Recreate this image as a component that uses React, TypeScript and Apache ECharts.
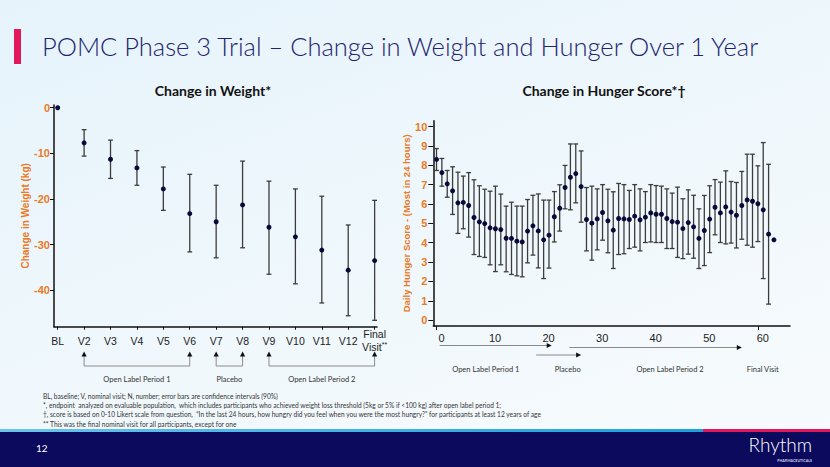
import React, { useEffect, useRef } from "react";
import * as echarts from "echarts";

// ---------- data ----------
const weightVisits = ["BL", "V2", "V3", "V4", "V5", "V6", "V7", "V8", "V9", "V10", "V11", "V12", "Final Visit**"];
const weightMean = [0, -7.7, -11.3, -13.2, -17.8, -23.2, -25.0, -21.3, -26.2, -28.3, -31.2, -35.6, -33.5];
const weightUpper = [null, -4.8, -7.1, -9.4, -13.0, -14.6, -17.0, -11.7, -16.1, -17.8, -19.4, -25.7, -20.3];
const weightLower = [null, -10.6, -15.5, -17.0, -22.5, -31.6, -32.9, -30.7, -36.5, -38.6, -42.8, -45.6, -46.6];
const weightTicks = [0, -10, -20, -30, -40];

const hungerMean = [
  8.30, 7.62, 7.04, 6.68, 6.06, 6.08, 5.92, 5.30, 5.08, 4.99,
  4.77, 4.72, 4.68, 4.23, 4.22, 4.08, 4.04, 4.60, 4.87, 4.61,
  4.15, 4.39, 5.34, 5.78, 6.85, 7.38, 7.57, 6.90, 5.20, 5.01,
  5.23, 5.56, 5.13, 4.65, 5.25, 5.23, 5.20, 5.37, 5.18, 5.32,
  5.54, 5.47, 5.47, 5.25, 5.09, 5.06, 4.73, 5.04, 4.82, 4.22,
  4.63, 5.22, 5.83, 5.54, 5.85, 5.58, 5.42, 5.92, 6.21, 6.14,
  6.01, 5.70, 4.44, 4.15,
];
const hungerUpper = [
  8.86, 8.35, 7.73, 7.92, 7.64, 7.44, 7.62, 7.25, 6.94, 6.76,
  6.66, 6.92, 6.51, 5.89, 6.09, 5.89, 5.89, 6.23, 6.45, 6.52,
  6.20, 6.20, 6.64, 6.99, 7.99, 9.10, 9.10, 8.74, 6.85, 6.92,
  6.78, 7.00, 6.76, 6.63, 7.06, 7.00, 6.70, 7.00, 6.78, 6.64,
  7.00, 6.95, 6.92, 6.78, 6.56, 6.87, 6.27, 6.73, 6.45, 5.75,
  6.44, 6.94, 7.26, 7.13, 7.71, 7.16, 7.11, 7.68, 8.57, 8.57,
  7.97, 9.17, 8.05, null,
];
const hungerLower = [
  7.73, 6.92, 6.35, 5.46, 4.48, 4.72, 4.29, 3.39, 3.29, 3.24,
  2.86, 2.51, 2.86, 2.50, 2.36, 2.29, 2.24, 2.96, 3.36, 2.70,
  2.15, 2.69, 4.04, 4.60, 5.75, 5.70, 6.06, 5.06, 3.58, 3.10,
  3.63, 4.13, 3.48, 2.67, 3.39, 3.43, 3.70, 3.77, 3.58, 4.01,
  4.04, 4.01, 4.01, 3.70, 3.70, 3.24, 3.18, 3.41, 3.20, 2.67,
  2.82, 3.49, 4.41, 4.01, 3.94, 3.98, 3.73, 4.18, 3.87, 3.77,
  4.06, 2.15, 0.83, null,
];
const hungerYTicks = [0, 1, 2, 3, 4, 5, 6, 7, 8, 9, 10];
const hungerXTicks = [0, 10, 20, 30, 40, 50, 60];

// period annotations
const weightPeriods = [
  { label: "Open Label Period 1", from: 1, to: 5 },
  { label: "Placebo", from: 6, to: 7 },
  { label: "Open Label Period 2", from: 8, to: 12 },
];
const hungerArrows = [
  { from: 0.6, to: 21.5, y: 345.5 },
  { from: 18.6, to: 27.0, y: 355 },
  { from: 24.8, to: 57.0, y: 347.5 },
];
const hungerPeriodLabels = [
  { label: "Open Label Period 1", at: 9.2 },
  { label: "Placebo", at: 24.5 },
  { label: "Open Label Period 2", at: 43.6 },
  { label: "Final Visit", at: 60.9 },
];

const footnotes = [
  "BL, baseline; V, nominal visit; N, number; error bars are confidence intervals (90%)",
  "*, endpoint  analyzed on evaluable population,  which includes participants who achieved weight loss threshold (5kg or 5% if <100 kg) after open label period 1;",
  "\u2020, score is based on 0-10 Likert scale from question,  \u201CIn the last 24 hours, how hungry did you feel when you were the most hungry?\u201D for participants at least 12 years of age",
  "** This was the final nominal visit for all participants, except for one",
];

const ORANGE = "#EA7A26";
const NAVY = "#23246F";
const AXIS_FONT = "'Liberation Sans Narrow', 'Liberation Sans', Arial, sans-serif";
const TEXT_FONT = "Lato, 'Open Sans', sans-serif";

function errorBarRender(params: any, api: any) {
  const x = api.value(0);
  const lo = api.value(1);
  const hi = api.value(2);
  const a = api.coord([x, hi]);
  const b = api.coord([x, lo]);
  const w = 2.4;
  const st = { stroke: "#3c3c3c", lineWidth: 1.3 };
  return {
    type: "group",
    children: [
      { type: "line", shape: { x1: a[0], y1: a[1], x2: b[0], y2: b[1] }, style: st },
      { type: "line", shape: { x1: a[0] - w, y1: a[1], x2: a[0] + w, y2: a[1] }, style: st },
      { type: "line", shape: { x1: b[0] - w, y1: b[1], x2: b[0] + w, y2: b[1] }, style: st },
    ],
  };
}

export default function App() {
  const ref = useRef<HTMLDivElement>(null);

  useEffect(() => {
    document.body.style.margin = "0";
    if (!ref.current) return;
    const chart = echarts.init(ref.current, undefined, { renderer: "svg" });

    const wMeanData = weightMean.map((v, i) => [i, v]);
    const wErrData = weightMean
      .map((_, i) => [i, weightLower[i], weightUpper[i]])
      .filter((d) => d[1] !== null && d[2] !== null);
    const hMeanData = hungerMean.map((v, i) => [i, v]);
    const hErrData = hungerMean
      .map((_, i) => [i, hungerLower[i], hungerUpper[i]])
      .filter((d) => d[1] !== null && d[2] !== null);

    const axisLineStyle = { color: "#111", width: 1.5 };

    const option: any = {
      animation: false,
      backgroundColor: "transparent",
      grid: [
        { left: 54, right: 453, top: 105, bottom: 140.3 },
        { left: 433.3, right: 40, top: 120.7, bottom: 141 },
      ],
      xAxis: [
        {
          type: "value",
          gridIndex: 0,
          min: -0.14,
          max: 12.09,
          splitLine: { show: false },
          axisLine: { show: true, onZero: false, lineStyle: axisLineStyle },
          axisTick: { show: true, length: 3, customValues: weightVisits.map((_, i) => i), lineStyle: { color: "#111" } },
          axisLabel: {
            customValues: weightVisits.map((_, i) => i),
            verticalAlign: "middle",
            margin: 14,
            color: "#222",
            fontFamily: AXIS_FONT,
            fontSize: 10.5,
            formatter: (v: number) => {
              const s = weightVisits[Math.round(v)] || "";
              if (s === "Final Visit**") return "{a|Final}\n{a|Visit}{s|**}";
              return "{a|" + s + "}";
            },
            rich: {
              a: { fontFamily: AXIS_FONT, fontSize: 10.5, color: "#222", lineHeight: 13 },
              s: { fontFamily: AXIS_FONT, fontSize: 7, color: "#222", padding: [0, 0, 5, 0] },
            },
          },
        },
        {
          type: "value",
          gridIndex: 1,
          min: -0.6,
          max: 66,
          splitLine: { show: false },
          axisLine: { show: true, onZero: false, lineStyle: axisLineStyle },
          axisTick: { show: true, length: 4, customValues: [0, 60], lineStyle: { color: "#111" } },
          axisLabel: {
            customValues: hungerXTicks,
            margin: 6,
            color: "#222",
            fontFamily: AXIS_FONT,
            fontSize: 11,
            padding: [0, 0, 0, 10],
          },
        },
      ],
      yAxis: [
        {
          type: "value",
          gridIndex: 0,
          min: -48,
          max: 0.6,
          splitLine: { show: false },
          axisLine: { show: true, onZero: false, lineStyle: axisLineStyle },
          axisTick: { show: true, length: 4, customValues: weightTicks, lineStyle: { color: "#111" } },
          axisLabel: {
            customValues: weightTicks,
            margin: 4,
            color: ORANGE,
            fontWeight: "bold",
            fontFamily: AXIS_FONT,
            fontSize: 11,
          },
          name: "Change in Weight (kg)",
          nameLocation: "middle",
          nameGap: 18,
          nameTextStyle: { color: ORANGE, fontWeight: "bold", fontFamily: AXIS_FONT, fontSize: 10 },
        },
        {
          type: "value",
          gridIndex: 1,
          min: -0.3,
          max: 10.3,
          splitLine: { show: false },
          axisLine: { show: true, onZero: false, lineStyle: axisLineStyle },
          axisTick: { show: true, length: 5, customValues: hungerYTicks, lineStyle: { color: "#111" } },
          axisLabel: {
            customValues: hungerYTicks,
            margin: 6,
            color: ORANGE,
            fontWeight: "bold",
            fontFamily: AXIS_FONT,
            fontSize: 11,
          },
          name: "Daily Hunger Score - (Most in 24 hours)",
          nameLocation: "middle",
          nameGap: 17,
          nameTextStyle: { color: ORANGE, fontWeight: "bold", fontFamily: AXIS_FONT, fontSize: 9.5 },
        },
      ],
      series: [
        {
          type: "custom",
          xAxisIndex: 0,
          yAxisIndex: 0,
          renderItem: errorBarRender,
          encode: { x: 0, y: [1, 2] },
          data: wErrData,
          z: 2,
        },
        {
          type: "scatter",
          xAxisIndex: 0,
          yAxisIndex: 0,
          symbolSize: 5,
          itemStyle: { color: "#0a0a3a", opacity: 1 },
          data: wMeanData,
          z: 3,
        },
        {
          type: "custom",
          xAxisIndex: 1,
          yAxisIndex: 1,
          renderItem: errorBarRender,
          encode: { x: 0, y: [1, 2] },
          data: hErrData,
          z: 2,
        },
        {
          type: "scatter",
          xAxisIndex: 1,
          yAxisIndex: 1,
          symbolSize: 5,
          itemStyle: { color: "#0a0a3a", opacity: 1 },
          data: hMeanData,
          z: 3,
        },
      ],
    };
    chart.setOption(option);

    // ---------- annotations (positions from axes) ----------
    const g: any[] = [];
    // header
    g.push({ type: "rect", shape: { x: 14, y: 29, width: 7, height: 35 }, style: { fill: "#E3185C" } });
    g.push({
      type: "text",
      x: 42,
      y: 46,
      style: { text: "POMC Phase 3 Trial \u2013 Change in Weight and Hunger Over 1 Year", fill: NAVY, font: "300 25.5px " + TEXT_FONT, verticalAlign: "middle" },
    });
    // chart titles
    g.push({ type: "text", x: 213, y: 90, style: { text: "Change in Weight*", fill: "#111", font: "bold 14px " + TEXT_FONT, align: "center", verticalAlign: "middle" } });
    g.push({ type: "text", x: 604, y: 90, style: { text: "Change in Hunger Score*\u2020", fill: "#111", font: "bold 14px " + TEXT_FONT, align: "center", verticalAlign: "middle" } });

    // weight brackets
    const wx = (v: number) => chart.convertToPixel({ xAxisIndex: 0 }, v) as number;
    const bracketY = 366;
    weightPeriods.forEach((p) => {
      const x1 = wx(p.from);
      const x2 = wx(p.to);
      const ls = { stroke: "#8a8a8a", lineWidth: 1 };
      g.push({ type: "line", shape: { x1, y1: bracketY, x2, y2: bracketY }, style: ls });
      [x1, x2].forEach((x) => {
        g.push({ type: "line", shape: { x1: x, y1: bracketY, x2: x, y2: 355 }, style: ls });
        g.push({ type: "polygon", shape: { points: [[x, 351.5], [x - 2.6, 356.5], [x + 2.6, 356.5]] }, style: { fill: "#111" } });
      });
      g.push({
        type: "text",
        x: (x1 + x2) / 2,
        y: 379,
        style: { text: p.label, fill: "#333", font: "7.5px " + TEXT_FONT, align: "center", verticalAlign: "middle" },
      });
    });

    // hunger arrows
    const hx = (v: number) => chart.convertToPixel({ xAxisIndex: 1 }, v) as number;
    hungerArrows.forEach((a) => {
      const x1 = hx(a.from);
      const x2 = hx(a.to);
      g.push({ type: "line", shape: { x1, y1: a.y, x2: x2 - 4, y2: a.y }, style: { stroke: "#8a8a8a", lineWidth: 1 } });
      g.push({ type: "polygon", shape: { points: [[x2, a.y], [x2 - 5, a.y - 2.6], [x2 - 5, a.y + 2.6]] }, style: { fill: "#111" } });
    });
    hungerPeriodLabels.forEach((p) => {
      g.push({
        type: "text",
        x: hx(p.at),
        y: 369,
        style: { text: p.label, fill: "#333", font: "7.5px " + TEXT_FONT, align: "center", verticalAlign: "middle" },
      });
    });

    // footnotes
    footnotes.forEach((t, i) => {
      g.push({ type: "text", x: 43, y: 396 + i * 9.2, style: { text: t, fill: "#333", font: "6.6px " + TEXT_FONT, verticalAlign: "middle" } });
    });

    // footer
    g.push({
      type: "rect",
      shape: { x: 0, y: 429, width: 703, height: 3 },
      style: { fill: new echarts.graphic.LinearGradient(0, 0, 1, 0, [{ offset: 0, color: "#6cc4ea" }, { offset: 1, color: "#1da0dc" }]) },
    });
    g.push({ type: "rect", shape: { x: 703, y: 429, width: 127, height: 3 }, style: { fill: "#E3185C" } });
    g.push({ type: "rect", shape: { x: 0, y: 432, width: 830, height: 35 }, style: { fill: "#0B0A5C" } });
    g.push({ type: "text", x: 36, y: 448, style: { text: "12", fill: "#fff", font: "10px " + TEXT_FONT, verticalAlign: "middle" } });
    g.push({ type: "text", x: 812, y: 444, style: { text: "Rhythm", fill: "#fff", font: "300 19px " + TEXT_FONT, align: "right", verticalAlign: "middle" } });
    g.push({ type: "text", x: 812, y: 460, style: { text: "PHARMACEUTICALS", fill: "#cfd0e8", font: "bold 3.6px " + TEXT_FONT, align: "right", verticalAlign: "middle" } });

    chart.setOption({ graphic: g });

    return () => chart.dispose();
  }, []);

  return (
    <div
      style={{
        width: 830,
        height: 467,
        background: "linear-gradient(160deg, #e6f3fb 0%, #eef7fc 45%, #f8fbfd 100%)",
        position: "relative",
      }}
    >
      <div ref={ref} style={{ width: 830, height: 467 }} />
    </div>
  );
}
